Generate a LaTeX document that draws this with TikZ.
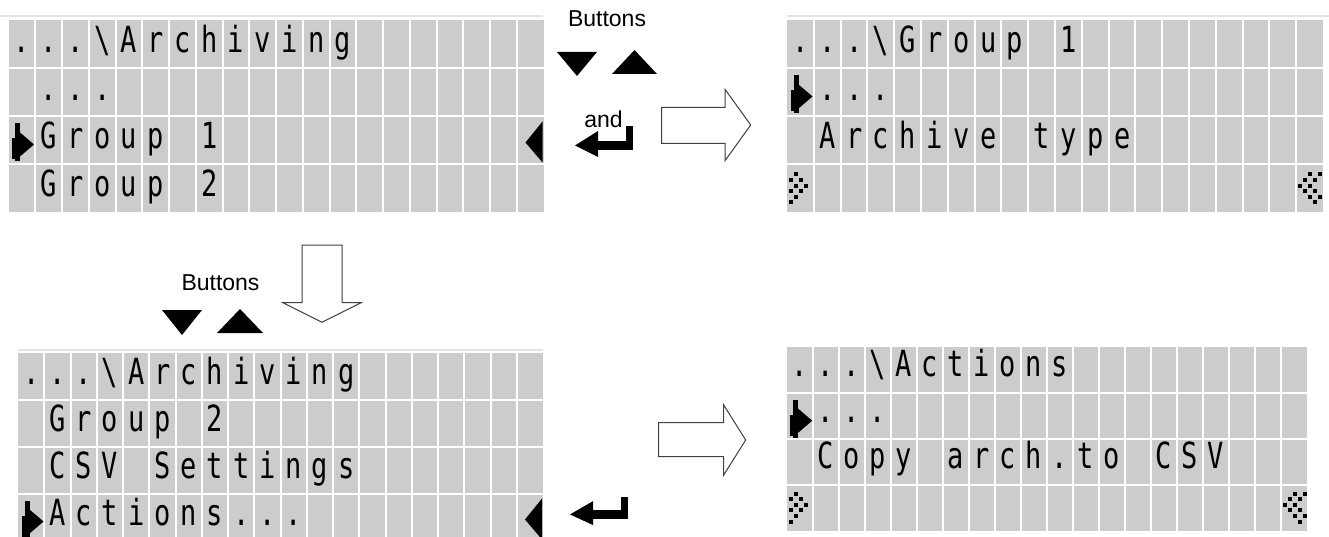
\documentclass[tikz,border=0pt]{standalone}
\usepackage{fontspec}
\setmainfont{Liberation Sans}
\newfontfamily\lcdfont{DejaVu Sans Mono}
\usepackage{graphicx}
\ExplSyntaxOn
\dim_new:N \l_lcdcell_dim
\NewDocumentCommand \lcdrow { m m }
  {
    \dim_set:Nn \l_lcdcell_dim {#1}
    \str_map_inline:nn {#2}
      { \makebox[\l_lcdcell_dim][c]{\scalebox{0.75}[1]{##1}} }
  }
\ExplSyntaxOff
\definecolor{lcdgray}{RGB}{204,204,204}
\definecolor{faintline}{RGB}{228,228,228}
\tikzset{
  cellgap/.style={white, line width=2pt},
  lcdtext/.style={font=\lcdfont\fontsize{36}{36}\selectfont, inner sep=0pt, anchor=base west, text=black},
  caption/.style={font=\fontsize{23}{23}\selectfont, inner sep=0pt, anchor=base},
  hollowarrow/.style={draw=black!75, fill=white, line width=1pt, line join=miter},
  faint/.style={draw=faintline, line width=1.5pt},
}
% grid: x0 y0 cellwidth rowheight
\newcommand\lcdgrid[4]{%
  \fill[lcdgray] (#1,#2) rectangle ++({20*#3},{4*#4});
  \foreach \i in {1,...,19}{\draw[cellgap] ({#1+\i*#3},#2) -- ++(0,{4*#4});}
  \foreach \j in {1,2,3}{\draw[cellgap] (#1,{#2+\j*#4}) -- ++({20*#3},0);}
}
% cursor: cell top-left
\newcommand\lcdcursor[2]{%
  \begin{scope}[shift={(#1,#2)}]
    \fill (3.5,22) rectangle (6.5,43);
    \fill (6.5,7) rectangle (11.5,45);
    \fill (11.5,16) -- (25.5,28) -- (11.5,40) -- cycle;
  \end{scope}}
% left-pointing marker: cell right edge, row top
\newcommand\lcdleftmark[2]{%
  \begin{scope}[shift={(#1,#2)}]
    \fill (-1,5) -- (-18,26) -- (-1,46) -- cycle;
  \end{scope}}
% scroll dots: cell left, row centre
\newcommand\lcddotsleft[2]{%
  \begin{scope}[shift={(#1,#2)}]
    \foreach \px/\py in {9/-14, 4/-8.3, 14/-8.3, 9/-2.7, 19/-2.7, 4/2.7, 14/2.7, 9/8.3, 4/14}
      {\fill (\px-2,\py-2) rectangle (\px+2,\py+2);}
  \end{scope}}
\newcommand\lcddotsright[2]{%
  \begin{scope}[shift={(#1,#2)}]
    \foreach \px/\py in {13.8/-14, 23.8/-14, 8.8/-8.3, 18.8/-8.3, 3.8/-2.7, 13.8/-2.7, 8.8/2.7, 18.8/2.7, 13.8/8.3, 23.8/8.3, 18.8/14}
      {\fill (\px-2,\py-2) rectangle (\px+2,\py+2);}
  \end{scope}}
% enter key: top-left, yscale
\newcommand\enterkey[3]{%
  \begin{scope}[shift={(#1,#2)}, yscale=#3]
    \fill (51,0) rectangle (58,24);
    \fill (21,15) rectangle (58,24);
    \fill (0,19.5) -- (23,5) -- (23,31) -- cycle;
  \end{scope}}
\begin{document}
\begin{tikzpicture}[x=1pt, y=-1pt]
\useasboundingbox (0,0) rectangle (1329,537);
\clip (0,0) rectangle (1329,537);
\fill[white] (0,0) rectangle (1329,537);

% faint separator lines
\draw[faint] (0,16) -- (543,16);
\draw[faint] (787,16) -- (1329,16);
\draw[faint] (18,350) -- (543,350);

% ---------- screen 1 ----------
\lcdgrid{8.5}{20.5}{26.75}{48}
\node[lcdtext] (s1a) at (8.5,52.5)  {\lcdrow{26.75pt}{...\Archiving}};
\node[lcdtext] (s1b) at (8.5,100.5) {\lcdrow{26.75pt}{ ...}};
\node[lcdtext] (s1c) at (8.5,148.5) {\lcdrow{26.75pt}{ Group 1}};
\node[lcdtext] (s1d) at (8.5,196.5) {\lcdrow{26.75pt}{ Group 2}};
\lcdcursor{8.5}{116.5}
\lcdleftmark{543.5}{116.5}

% ---------- screen 2 ----------
\lcdgrid{787}{20.5}{26.8}{48}
\node[lcdtext] (s2a) at (787,52.5)  {\lcdrow{26.8pt}{...\Group 1}};
\node[lcdtext] (s2b) at (787,100.5) {\lcdrow{26.8pt}{ ...}};
\node[lcdtext] (s2c) at (787,148.5) {\lcdrow{26.8pt}{ Archive type}};
\lcdcursor{787}{68.5}
\lcddotsleft{787}{188.5}
\lcddotsright{1296.2}{188.5}

% ---------- screen 3 ----------
\lcdgrid{18}{352.5}{26.25}{47}
\node[lcdtext] (s3a) at (18,384.5) {\lcdrow{26.25pt}{...\Archiving}};
\node[lcdtext] (s3b) at (18,431.5) {\lcdrow{26.25pt}{ Group 2}};
\node[lcdtext] (s3c) at (18,478.5) {\lcdrow{26.25pt}{ CSV Settings}};
\node[lcdtext] (s3d) at (18,525.5) {\lcdrow{26.25pt}{ Actions...}};
\lcdcursor{18}{493.5}
\lcdleftmark{543}{493.5}

% ---------- screen 4 ----------
\lcdgrid{786.7}{346.7}{26}{46}
\node[lcdtext] (s4a) at (786.7,376.7) {\lcdrow{26pt}{...\Actions}};
\node[lcdtext] (s4b) at (786.7,422.7) {\lcdrow{26pt}{ ...}};
\node[lcdtext] (s4c) at (786.7,468.7) {\lcdrow{26pt}{ Copy arch.to CSV}};
\lcdcursor{786.7}{392.7}
\lcddotsleft{786.7}{507.7}
\lcddotsright{1280.7}{507.7}

% ---------- top buttons ----------
\node[caption] (btn1) at (607,27) {Buttons};
\fill (557,52) -- (597,52) -- (577,76) -- cycle;
\fill (612,74) -- (657,74) -- (634.5,50) -- cycle;
\node[caption] (andtxt) at (603.5,128) {and};
\enterkey{575}{126}{1}

% top hollow arrow
\draw[hollowarrow] (661.7,107.3) -- (725,107.3) -- (725,89.3) -- (750.7,125)
  -- (725,160.7) -- (725,143.3) -- (661.7,143.3) -- cycle;

% ---------- bottom-left buttons ----------
\node[caption] (btn2) at (220.5,290) {Buttons};
\fill (162,310) -- (202,310) -- (182,335) -- cycle;
\fill (217,333) -- (263,333) -- (240,309) -- cycle;

% down hollow arrow
\draw[hollowarrow] (302,245) -- (342,245) -- (342,302.7) -- (361,302.7)
  -- (322,322.3) -- (283,302.7) -- (302,302.7) -- cycle;

% bottom enter
\enterkey{570}{496.5}{0.92}

% bottom hollow arrow
\draw[hollowarrow] (658.5,422.7) -- (723.7,422.7) -- (723.7,405) -- (745.7,440)
  -- (723.7,475) -- (723.7,456.7) -- (658.5,456.7) -- cycle;
\end{tikzpicture}
\end{document}
